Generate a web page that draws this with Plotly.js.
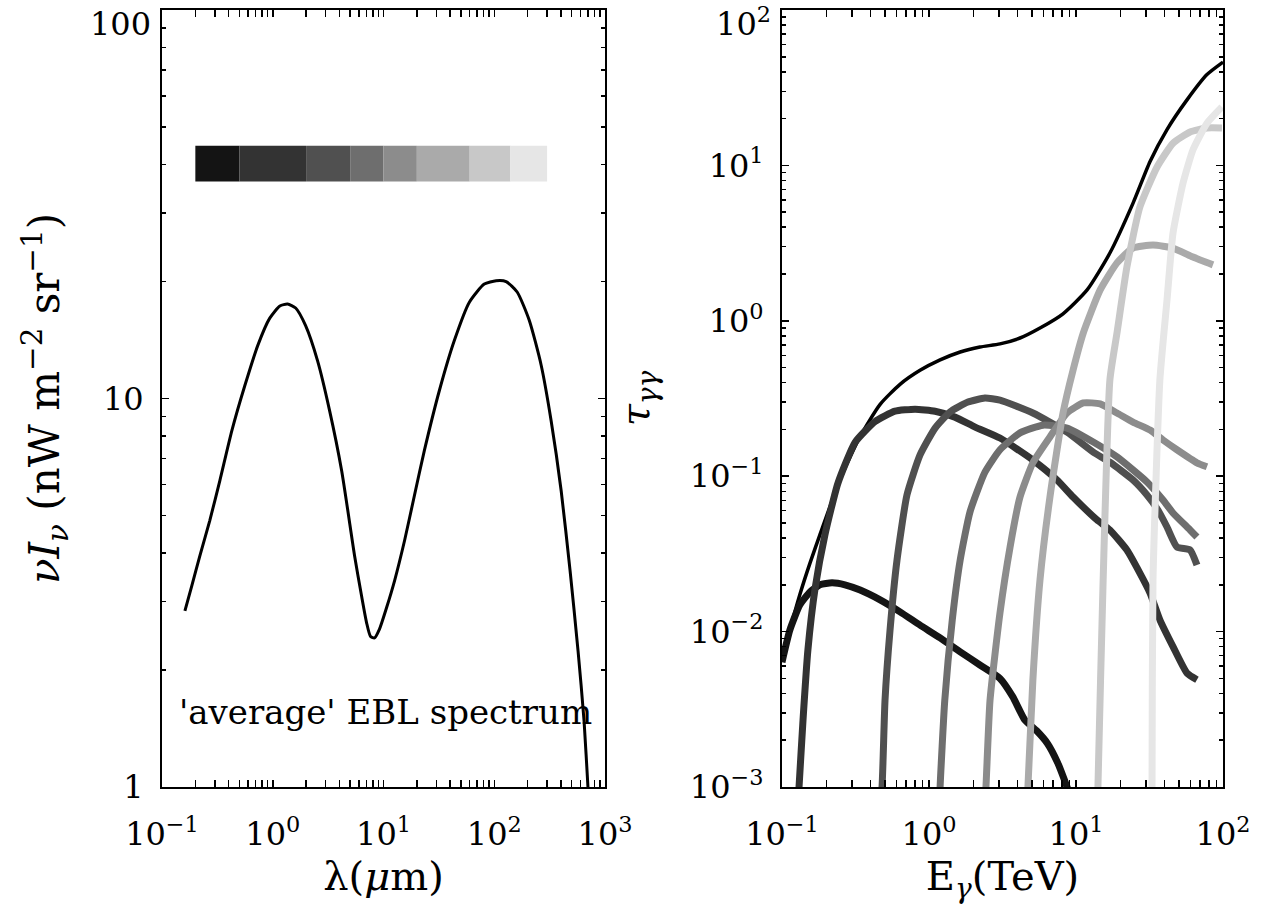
<!DOCTYPE html>
<html>
<head>
<meta charset="utf-8">
<script src="https://cdn.plot.ly/plotly-3.0.1.min.js"></script>
<style>
  html, body { margin: 0; padding: 0; background: #ffffff; }
  #chart { width: 1273px; height: 905px; }
</style>
</head>
<body>
<div id="chart"></div>
<script>
// ---------- Left panel: average EBL spectrum ----------
const eblLambda = [0.161, 0.186, 0.220, 0.270, 0.333, 0.428, 0.560, 0.733, 0.940, 1.16, 1.36, 1.61, 1.98, 2.54, 3.26, 4.19, 5.48, 6.34, 7.03, 7.64, 8.30,
                   9.20, 10.6, 12.6, 15.5, 19.0, 23.4, 32.0, 43.6, 59.6, 81.3, 104, 128, 161, 207, 265, 326, 402, 484, 571, 647, 703, 760];
const eblNuInu = [2.84, 3.30, 3.94, 4.85, 6.15, 8.28, 10.8, 13.7, 16.1, 17.3, 17.5, 17.1, 15.4, 12.5, 9.31, 6.52, 3.94, 3.10, 2.65, 2.44, 2.42,
                  2.55, 2.88, 3.40, 4.31, 5.62, 7.35, 10.5, 14.1, 17.7, 19.7, 20.1, 20.0, 18.8, 15.9, 12.2, 8.78, 5.79, 3.60, 2.24, 1.48, 0.99, 0.70];

// wavelength bands (micron) and their grey shades
const bandEdges = [0.2, 0.5, 2, 5, 10, 20, 60, 140, 300];
const bandColors = ['#141414', '#333333', '#505050', '#6e6e6e', '#8c8c8c', '#aaaaaa', '#c8c8c8', '#e6e6e6'];
const bandBarY = [36.2, 44.7];

const eblLabel = "'average' EBL spectrum";

// ---------- Right panel: optical depth ----------
const totalE   = [0.100, 0.113, 0.132, 0.155, 0.181, 0.248, 0.340, 0.465, 0.635, 0.869, 1.19, 1.63, 2.22, 3.04, 4.16, 5.69, 8.16, 11.9, 17.0, 24.4, 31.9, 41.6, 56.9, 77.8, 100];
const totalTau = [0.00656, 0.0102, 0.0172, 0.0276, 0.0419, 0.0950, 0.180, 0.290, 0.390, 0.480, 0.560, 0.630, 0.678, 0.710, 0.775, 0.899, 1.11, 1.58, 2.73, 5.70, 10.6, 17.0, 26.4, 38.4, 46.2];

const bandE = [
  [0.100, 0.113, 0.132, 0.155, 0.181, 0.219, 0.268, 0.340, 0.465, 0.635, 0.869, 1.19, 1.63, 2.22, 3.04, 3.72, 4.48, 5.40, 6.41, 7.51, 8.69, 9.4],
  [0.129, 0.1306, 0.139, 0.150, 0.168, 0.196, 0.240, 0.314, 0.430, 0.587, 0.804, 1.10, 1.50, 2.06, 3.04, 5.09, 7.43, 9.55, 13.9, 17.0, 22.2, 27.2, 31.9, 37.2, 45.7, 56.9, 66.5],
  [0.465, 0.479, 0.502, 0.543, 0.606, 0.708, 0.869, 1.10, 1.39, 1.84, 2.40, 3.04, 5.09, 8.69, 13.1, 17.0, 24.4, 30.4, 36.1, 41.6, 48.6, 59.7, 66.5],
  [1.185, 1.19, 1.28, 1.44, 1.63, 1.90, 2.40, 3.04, 4.16, 5.97, 8.69, 13.1, 19.0, 30.4, 39.1, 45.7, 59.7, 66.5],
  [2.40, 2.44, 2.60, 3.04, 3.56, 4.16, 5.09, 6.65, 8.69, 11.2, 14.6, 19.0, 24.4, 31.9, 39.1, 48.6, 66.5, 77.8],
  [4.64, 4.71, 5.09, 5.69, 6.65, 8.16, 9.55, 11.2, 14.6, 19.0, 24.4, 33.4, 45.7, 62.5, 85.5],
  [14.05, 14.1, 15.3, 17.0, 19.0, 22.2, 27.2, 35.6, 45.7, 59.7, 77.8, 98.4],
  [32.85, 32.9, 33.4, 37.2, 41.6, 45.7, 53.5, 62.5, 77.8, 98.4]
];
const bandTau = [
  [0.00636, 0.0102, 0.0148, 0.0180, 0.0200, 0.0206, 0.0200, 0.0185, 0.0160, 0.0134, 0.0110, 0.0091, 0.0074, 0.0061, 0.0050, 0.0038, 0.0027, 0.0023, 0.0019, 0.00143, 0.0010, 0.00081],
  [0.00082, 0.0010, 0.0027, 0.0076, 0.0190, 0.0420, 0.0900, 0.165, 0.225, 0.262, 0.270, 0.262, 0.240, 0.207, 0.176, 0.127, 0.0946, 0.0735, 0.0523, 0.0451, 0.0335, 0.0238, 0.0177, 0.0119, 0.0080, 0.0054, 0.0049],
  [0.00082, 0.0010, 0.0036, 0.0102, 0.0289, 0.0757, 0.137, 0.204, 0.259, 0.300, 0.318, 0.309, 0.255, 0.192, 0.143, 0.123, 0.0946, 0.0757, 0.0606, 0.0471, 0.0350, 0.0335, 0.0268],
  [0.00082, 0.0010, 0.0036, 0.0119, 0.0289, 0.0589, 0.106, 0.148, 0.190, 0.213, 0.204, 0.166, 0.133, 0.0918, 0.0703, 0.0580, 0.0451, 0.0406],
  [0.00082, 0.0010, 0.0036, 0.0132, 0.0350, 0.0735, 0.122, 0.179, 0.255, 0.296, 0.292, 0.255, 0.223, 0.198, 0.171, 0.148, 0.122, 0.115],
  [0.00082, 0.0010, 0.0049, 0.0215, 0.0735, 0.255, 0.482, 0.834, 1.58, 2.36, 2.94, 3.07, 2.94, 2.57, 2.29],
  [0.00082, 0.0010, 0.0215, 0.416, 0.834, 2.22, 5.40, 9.77, 13.9, 16.4, 17.4, 17.4],
  [0.00082, 0.0010, 0.0215, 0.416, 1.36, 3.67, 7.71, 12.6, 18.7, 23.8]
];

// ---------- styling ----------
const FONT = 'DejaVu Serif';
const TICKSIZE = 32;
const TITLESIZE = 40;

function minorLogTicks(lo, hi) {
  const v = [];
  for (let p = lo; p < hi; p++) {
    for (let m = 2; m <= 9; m++) v.push(m * Math.pow(10, p));
  }
  return v;
}
function powLabel(p) {
  return '10<sup>' + (p < 0 ? '\u2212' + (-p) : p) + '</sup>';
}

const traces = [];
traces.push({
  x: eblLambda, y: eblNuInu, xaxis: 'x', yaxis: 'y',
  type: 'scatter', mode: 'lines',
  line: { color: '#000000', width: 3, shape: 'spline', smoothing: 0.6 },
  hoverinfo: 'skip', showlegend: false
});
traces.push({
  x: totalE, y: totalTau, xaxis: 'x2', yaxis: 'y2',
  type: 'scatter', mode: 'lines',
  line: { color: '#000000', width: 3.5, shape: 'spline', smoothing: 0.6 },
  hoverinfo: 'skip', showlegend: false
});
for (let i = 0; i < bandE.length; i++) {
  traces.push({
    x: bandE[i], y: bandTau[i], xaxis: 'x2', yaxis: 'y2',
    type: 'scatter', mode: 'lines',
    line: { color: bandColors[i], width: 7, shape: 'spline', smoothing: 0.5 },
    hoverinfo: 'skip', showlegend: false
  });
}
// empty traces so the label-only overlay axes (top tick labels) are drawn
traces.push({ x: [], y: [], xaxis: 'x', yaxis: 'y3', type: 'scatter', mode: 'lines', showlegend: false, hoverinfo: 'skip' });
traces.push({ x: [], y: [], xaxis: 'x2', yaxis: 'y4', type: 'scatter', mode: 'lines', showlegend: false, hoverinfo: 'skip' });

const shapes = [];
for (let i = 0; i < bandColors.length; i++) {
  shapes.push({
    type: 'rect', xref: 'x', yref: 'y',
    x0: bandEdges[i], x1: bandEdges[i + 1], y0: bandBarY[0], y1: bandBarY[1],
    fillcolor: bandColors[i], line: { width: 0 }, layer: 'above'
  });
}

const yDom = [(905 - 787) / 905, (905 - 10) / 905];
const commonAxis = {
  type: 'log', showline: true, linecolor: '#000000', linewidth: 2,
  mirror: 'allticks', ticks: 'inside', ticklen: 7, tickwidth: 1.5, tickcolor: '#000000',
  showgrid: false, zeroline: false, tickmode: 'array', ticklabeloverflow: 'allow',
  tickfont: { family: FONT, size: TICKSIZE, color: '#000000' }
};
const minorBase = { ticks: 'inside', ticklen: 4, tickwidth: 1.5, tickcolor: '#000000', tickmode: 'array', showgrid: false };
const labelOnlyAxis = {
  type: 'log', side: 'left', showline: false, ticks: '', showgrid: false, zeroline: false,
  tickmode: 'array', ticklabelshift: 14, ticklabelstandoff: 10, ticklabeloverflow: 'allow',
  tickfont: { family: FONT, size: TICKSIZE, color: '#000000' }
};

const layout = {
  width: 1273, height: 905,
  margin: { l: 0, r: 0, t: 0, b: 0 },
  paper_bgcolor: '#ffffff', plot_bgcolor: '#ffffff',
  font: { family: FONT, color: '#000000' },
  showlegend: false,
  xaxis: Object.assign({}, commonAxis, {
    domain: [162 / 1273, 605 / 1273], anchor: 'y', range: [-1, 3],
    tickvals: [0.1, 1, 10, 100, 1000],
    ticktext: [powLabel(-1), powLabel(0), powLabel(1), powLabel(2), powLabel(3)],
    ticklabelstandoff: 18,
    minor: Object.assign({}, minorBase, { tickvals: minorLogTicks(-1, 3) }),
    title: { text: 'λ(<i>μ</i>m)', font: { family: FONT, size: TITLESIZE }, standoff: 8 }
  }),
  yaxis: Object.assign({}, commonAxis, {
    domain: yDom, anchor: 'x', range: [0, 2],
    tickvals: [1, 10, 100], ticktext: ['1', '10', ''],
    ticklabelstandoff: 10,
    minor: Object.assign({}, minorBase, { tickvals: minorLogTicks(0, 2) }),
    title: { text: '<i>νI</i><sub><i>ν</i></sub> (nW m<sup>\u22122</sup> sr<sup>\u22121</sup>)', font: { family: FONT, size: 42 }, standoff: 30 }
  }),
  yaxis3: Object.assign({}, labelOnlyAxis, {
    overlaying: 'y', anchor: 'x', range: [0, 2],
    tickvals: [100], ticktext: ['100']
  }),
  xaxis2: Object.assign({}, commonAxis, {
    domain: [782 / 1273, 1223 / 1273], anchor: 'y2', range: [-1, 2],
    tickvals: [0.1, 1, 10, 100],
    ticktext: [powLabel(-1), powLabel(0), powLabel(1), powLabel(2)],
    ticklabelstandoff: 18,
    minor: Object.assign({}, minorBase, { tickvals: minorLogTicks(-1, 2) }),
    title: { text: 'E<sub><i>γ</i></sub>(TeV)', font: { family: FONT, size: TITLESIZE }, standoff: 8 }
  }),
  yaxis2: Object.assign({}, commonAxis, {
    domain: yDom, anchor: 'x2', range: [-3, 2],
    tickvals: [0.001, 0.01, 0.1, 1, 10, 100],
    ticktext: [powLabel(-3), powLabel(-2), powLabel(-1), powLabel(0), powLabel(1), ''],
    ticklabelstandoff: 10,
    minor: Object.assign({}, minorBase, { tickvals: minorLogTicks(-3, 2) }),
    title: { text: '<i>τ</i><sub><i>γγ</i></sub>', font: { family: FONT, size: TITLESIZE }, standoff: 28 }
  }),
  yaxis4: Object.assign({}, labelOnlyAxis, {
    overlaying: 'y2', anchor: 'x2', range: [-3, 2],
    tickvals: [100], ticktext: [powLabel(2)]
  }),
  shapes: shapes,
  annotations: [{
    text: eblLabel, xref: 'paper', yref: 'paper',
    x: 385 / 1273, y: (905 - 712) / 905, xanchor: 'center', yanchor: 'middle',
    showarrow: false, font: { family: FONT, size: 34, color: '#000000' }
  }]
};

Plotly.newPlot('chart', traces, layout, { staticPlot: true, displayModeBar: false });
</script>
</body>
</html>
